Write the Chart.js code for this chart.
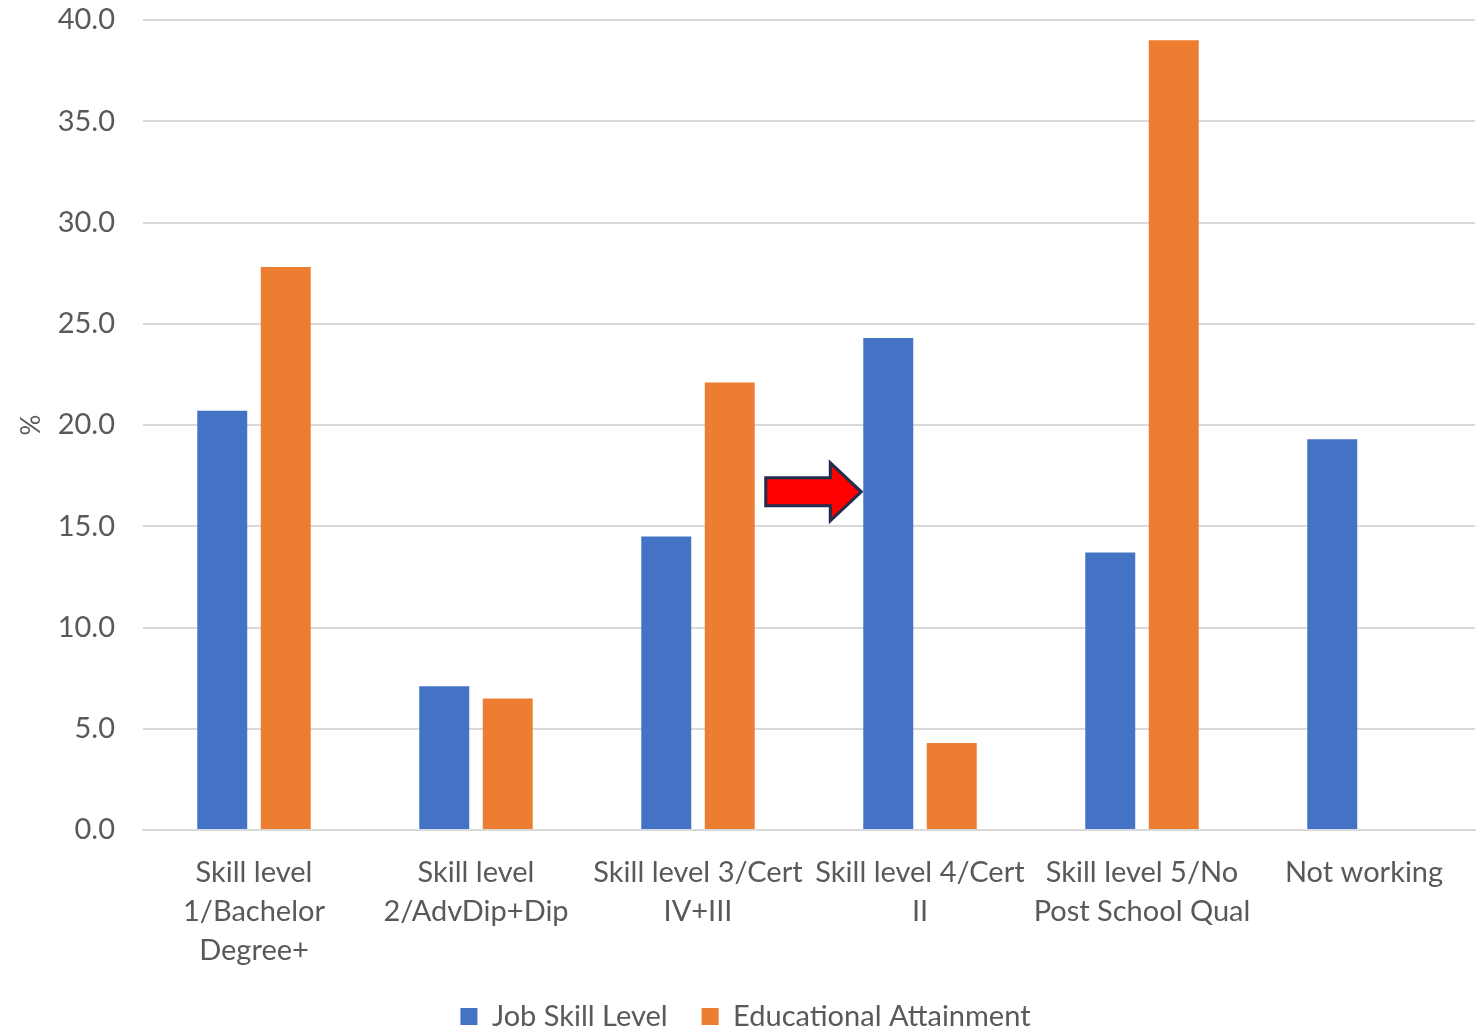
<!DOCTYPE html>
<html>
<head>
<meta charset="utf-8">
<script src="https://cdn.jsdelivr.net/npm/chart.js@4.4.0/dist/chart.umd.min.js"></script>
<style>
    html, body { margin: 0; padding: 0; background: #ffffff; }
    #wrap { width: 1483px; height: 1028px; position: relative; }
</style>
</head>
<body>
<div id="wrap"><canvas id="skillChart"></canvas></div>
<script>
const categories = [
    ['Skill level', '1/Bachelor', 'Degree+'],
    ['Skill level', '2/AdvDip+Dip'],
    ['Skill level 3/Cert', 'IV+III'],
    ['Skill level 4/Cert', 'II'],
    ['Skill level 5/No', 'Post School Qual'],
    'Not working'
];
const jobSkillLevel = [20.7, 7.1, 14.5, 24.3, 13.7, 19.3];
const educationalAttainment = [27.8, 6.5, 22.1, 4.3, 39.0, null];
const yTicks = [0, 5, 10, 15, 20, 25, 30, 35, 40];

// value where the arrow points at the Skill level 4 bar
const arrowValue = 16.7;

const FONT = "Lato, 'Open Sans', sans-serif";
const TEXT = '#595959';

// red block arrow pointing at the Skill level 4 job bar
const arrowPlugin = {
    id: 'pointerArrow',
    afterDatasetsDraw(chart) {
        const blue = chart.getDatasetMeta(0).data[3];
        const orange = chart.getDatasetMeta(1).data[2];
        if (!blue || !orange) return;
        const ctx = chart.ctx;
        const y = chart.scales.y.getPixelForValue(arrowValue);
        const tail = orange.x + orange.width / 2 + 11;
        const tip = blue.x - blue.width / 2 - 2;
        const headLen = 31;
        const headHalf = 29;
        const bodyHalf = 14;
        ctx.save();
        ctx.beginPath();
        ctx.moveTo(tail, y - bodyHalf);
        ctx.lineTo(tip - headLen, y - bodyHalf);
        ctx.lineTo(tip - headLen, y - headHalf);
        ctx.lineTo(tip, y);
        ctx.lineTo(tip - headLen, y + headHalf);
        ctx.lineTo(tip - headLen, y + bodyHalf);
        ctx.lineTo(tail, y + bodyHalf);
        ctx.closePath();
        ctx.fillStyle = '#ff0000';
        ctx.fill();
        ctx.lineWidth = 3;
        ctx.lineJoin = 'miter';
        ctx.strokeStyle = '#1f2d4e';
        ctx.stroke();
        ctx.restore();
    }
};

new Chart(document.getElementById('skillChart'), {
    type: 'bar',
    data: {
        labels: categories,
        datasets: [{
            label: 'Job Skill Level',
            data: jobSkillLevel,
            backgroundColor: '#4472c4'
        }, {
            label: 'Educational Attainment',
            data: educationalAttainment,
            backgroundColor: '#ed7d31'
        }]
    },
    options: {
        responsive: true,
        maintainAspectRatio: false,
        animation: false,
        categoryPercentage: 0.572,
        barPercentage: 0.787,
        layout: {
            padding: { left: 16, right: 8, top: 20, bottom: 0 }
        },
        plugins: {
            legend: {
                position: 'bottom',
                maxHeight: 60,
                labels: {
                    boxWidth: 17,
                    boxHeight: 17,
                    padding: 34,
                    color: TEXT,
                    font: { family: FONT, size: 29 }
                }
            },
            tooltip: { enabled: false }
        },
        scales: {
            x: {
                afterFit(scale) {
                    scale.height = 138;
                },
                grid: { display: false },
                border: { display: true, color: '#d9d9d9', width: 2 },
                ticks: {
                    color: TEXT,
                    padding: 15,
                    maxRotation: 0,
                    autoSkip: false,
                    font: { family: FONT, size: 29, lineHeight: 1.34 }
                }
            },
            y: {
                min: 0,
                max: 40,
                afterBuildTicks(scale) {
                    scale.ticks = yTicks.map(v => ({ value: v }));
                },
                afterFit(scale) {
                    scale.width = 127;
                    scale.paddingTop = 0;
                },
                grid: { color: '#d9d9d9', lineWidth: 2, drawTicks: false },
                border: { display: false },
                ticks: {
                    color: TEXT,
                    padding: 28,
                    font: { family: FONT, size: 29 },
                    callback: v => v.toFixed(1)
                },
                title: {
                    display: true,
                    text: '%',
                    color: TEXT,
                    padding: { top: 0, bottom: 0 },
                    font: { family: FONT, size: 26 }
                }
            }
        }
    },
    plugins: [arrowPlugin]
});
</script>
</body>
</html>
